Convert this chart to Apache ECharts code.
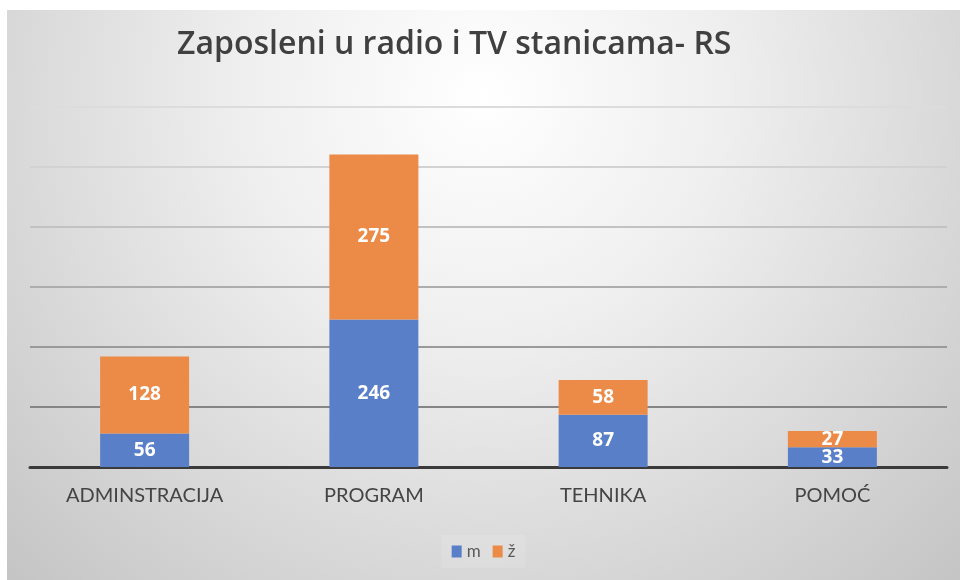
<!DOCTYPE html>
<html>
<head>
<meta charset="utf-8">
<script src="https://cdn.jsdelivr.net/npm/echarts@6/dist/echarts.min.js"></script>
<style>
html,body{margin:0;padding:0;background:#ffffff;}
#chart{position:absolute;left:7px;top:10px;width:953px;height:570px;}
</style>
</head>
<body>
<div id="chart"></div>
<script>
const categories = ['ADMINSTRACIJA', 'PROGRAM', 'TEHNIKA', 'POMOĆ'];
const seriesNames = ['m', 'ž'];
const valuesM = [56, 246, 87, 33];
const valuesZ = [128, 275, 58, 27];
const titleText = 'Zaposleni u radio i TV stanicama- RS';

const chart = echarts.init(document.getElementById('chart'), null, {renderer: 'canvas'});
const labelStyle = {
  show: true,
  position: 'inside',
  color: '#ffffff',
  fontFamily: 'Open Sans',
  fontWeight: 'bold',
  fontSize: 19
};
chart.setOption({
  animation: false,
  backgroundColor: {
    type: 'radial', x: 0.5, y: 0.15, r: 1.2,
    colorStops: [
      {offset: 0, color: '#ffffff'},
      {offset: 0.35, color: '#efefef'},
      {offset: 1, color: '#c4c4c4'}
    ]
  },
  title: {
    text: titleText,
    left: 165,
    top: 14,
    textStyle: {fontFamily: 'Open Sans', fontWeight: 600, fontSize: 32, color: '#404040'}
  },
  legend: {
    data: seriesNames,
    bottom: 12,
    left: 'center',
    icon: 'rect',
    itemWidth: 10,
    itemHeight: 12,
    itemGap: 12,
    padding: [8, 10],
    backgroundColor: 'rgba(255,255,255,0.12)',
    textStyle: {fontFamily: 'Lato', fontSize: 17, color: '#595959'}
  },
  grid: {left: 23, right: 13, top: 97, bottom: 113, containLabel: false},
  xAxis: {
    type: 'category',
    data: categories,
    axisTick: {show: false},
    axisLine: {show: true, lineStyle: {color: '#3a3a3a', width: 3}},
    axisLabel: {fontFamily: 'Lato', fontSize: 20, color: '#444444', margin: 19}
  },
  yAxis: {
    type: 'value',
    min: 0,
    max: 600,
    interval: 100,
    axisLabel: {show: false},
    axisLine: {show: false},
    axisTick: {show: false},
    splitLine: {
      show: true,
      lineStyle: {width: 2, color: ['#3a3a3a', '#858585', '#9a9a9a', '#adadad', '#c2c2c2', '#d2d2d2', '#dcdcdc']}
    }
  },
  series: [
    {
      name: seriesNames[0], type: 'bar', stack: 'total', data: valuesM, barWidth: 89,
      itemStyle: {color: '#5a7fc9'},
      label: labelStyle
    },
    {
      name: seriesNames[1], type: 'bar', stack: 'total', data: valuesZ, barWidth: 89,
      itemStyle: {color: '#ec8a47'},
      label: labelStyle
    }
  ]
});
</script>
</body>
</html>
